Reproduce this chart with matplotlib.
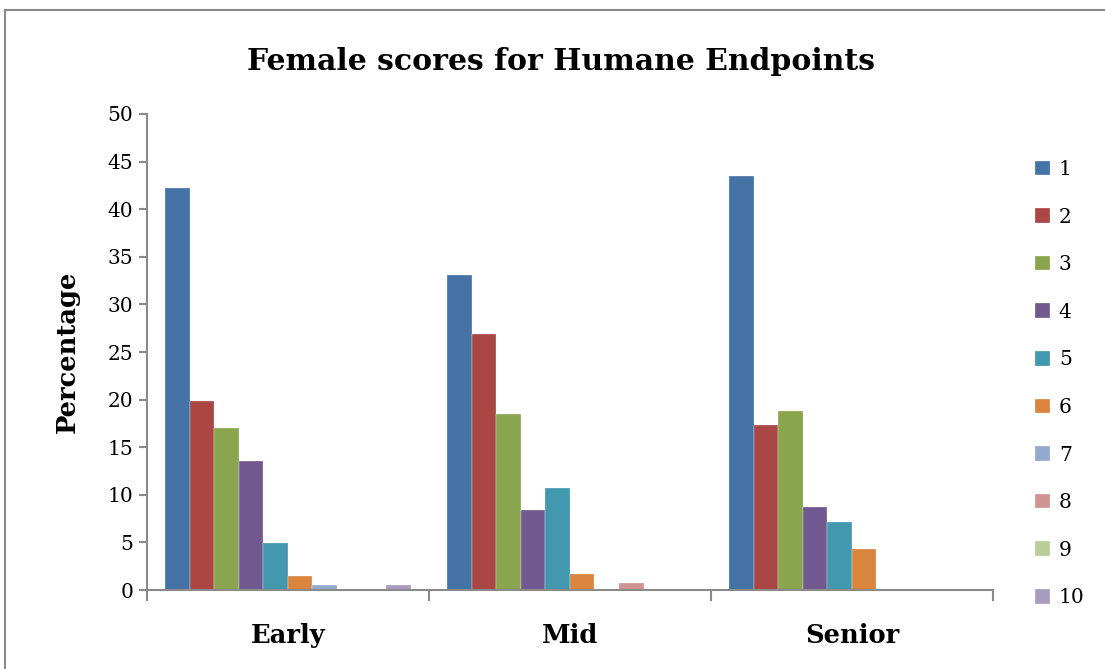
import numpy as np
import matplotlib.pyplot as plt
from matplotlib.patches import Rectangle

# data
groups = ["Early", "Mid", "Senior"]
score_labels = ["1", "2", "3", "4", "5", "6", "7", "8", "9", "10"]
early = [42.2, 19.9, 17.0, 13.6, 4.9, 1.5, 0.5, 0.0, 0.0, 0.5]
mid = [33.1, 26.9, 18.5, 8.4, 10.7, 1.7, 0.0, 0.7, 0.0, 0.0]
senior = [43.5, 17.3, 18.8, 8.7, 7.2, 4.3, 0.0, 0.0, 0.0, 0.0]
yticks = [0, 5, 10, 15, 20, 25, 30, 35, 40, 45, 50]

colors = ["#4572A7", "#AA4643", "#89A54E", "#71588F", "#4198AF",
          "#DB843D", "#93A9CF", "#D19392", "#B9CD96", "#A99BBD"]

plt.rcParams['font.family'] = ['DejaVu Serif']

fig = plt.figure(figsize=(11.05, 6.69), dpi=100)
ax = fig.add_axes([0.133, 0.118, 0.7656, 0.7116])

# outer chart border (only left/top visible in the crop)
fig.patches.append(Rectangle((5 / 1105, -0.1), 1.2, (669 - 10) / 669 + 0.1,
                             transform=fig.transFigure, fill=False,
                             edgecolor="#8a8a8a", linewidth=1.5))

values = np.array([early, mid, senior])
n_series = len(score_labels)
gap = 1.5
bw = 1.0 / (n_series + gap)
x0 = np.arange(len(groups))
for i in range(n_series):
    xs = x0 - 0.5 + bw * gap / 2 + bw * (i + 0.5)
    ax.bar(xs, values[:, i], width=bw, color=colors[i], label=score_labels[i],
           edgecolor="white", linewidth=0.2)

ax.set_xlim(-0.5, len(groups) - 0.5)
ax.set_ylim(0, 50)
ax.set_yticks(yticks)
ax.set_yticklabels([str(t) for t in yticks], fontsize=14.5)

ax.set_xticks(np.arange(-0.5, len(groups)), minor=False)
ax.set_xticklabels([])
ax.set_xticks(x0, minor=True)
ax.set_xticklabels(groups, minor=True, fontsize=18.5, fontweight="bold")
ax.tick_params(axis="x", which="major", length=8, width=1.5, color="#8a8a8a", direction="out")
ax.tick_params(axis="x", which="minor", length=0, pad=24)
ax.tick_params(axis="y", length=6, width=1.5, color="#8a8a8a", direction="out", pad=4)

for s in ["top", "right"]:
    ax.spines[s].set_visible(False)
for s in ["left", "bottom"]:
    ax.spines[s].set_color("#8a8a8a")
    ax.spines[s].set_linewidth(1.5)

ax.set_ylabel("Percentage", fontsize=18.5, fontweight="bold", labelpad=20)
fig.suptitle("Female scores for Humane Endpoints", fontsize=21.5, fontweight="bold",
             x=0.508, y=0.93)

fig.legend(loc="upper left", bbox_to_anchor=(0.929, 0.773), frameon=False,
           fontsize=14.5, handlelength=0.75, handleheight=0.75, handletextpad=0.45,
           labelspacing=1.42, borderaxespad=0)

fig.savefig("out.png", dpi=100)
